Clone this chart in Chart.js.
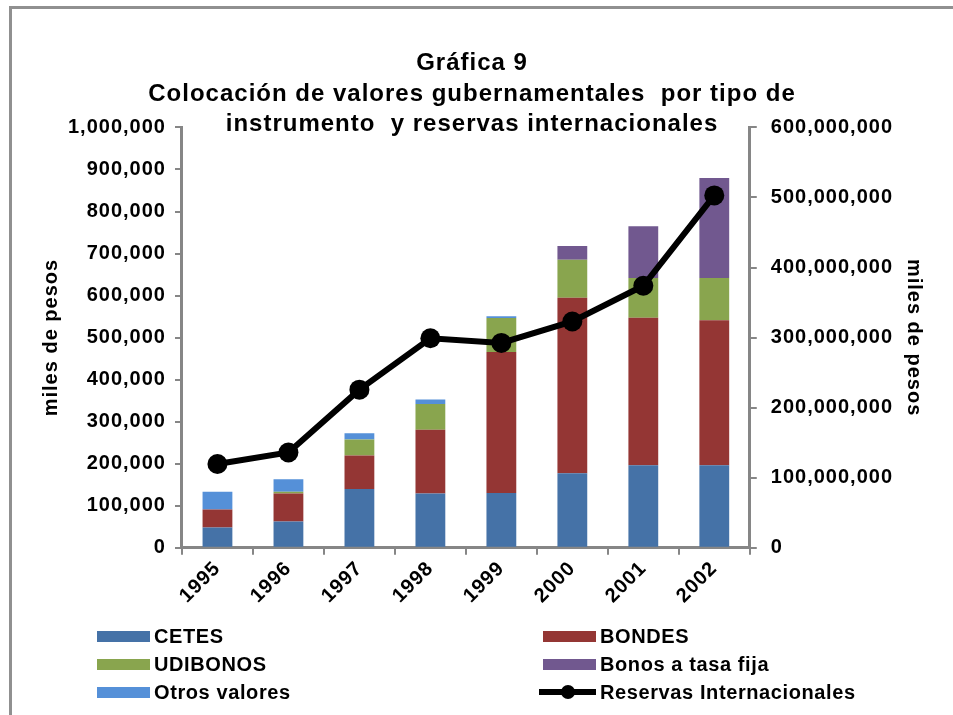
<!DOCTYPE html>
<html>
<head>
<meta charset="utf-8">
<script src="https://cdn.jsdelivr.net/npm/chart.js@4"></script>
<style>
  body { margin: 0; background: #fff; }
  #wrap { position: relative; width: 953px; height: 715px; overflow: hidden; }
  #frame { position: absolute; left: 9px; top: 6px; width: 1000px; height: 800px;
           border-left: 3px solid #909090; border-top: 3px solid #909090; }
  canvas { position: absolute; left: 0; top: 0; }
  #legend { position: absolute; left: 97px; top: 622px; width: 800px;
            display: grid; grid-template-columns: 446px 354px; grid-auto-rows: 28px;
            font: bold 20px "Liberation Sans", Arial, sans-serif; letter-spacing: 0.6px; color: #000; }
  #legend .item { display: flex; align-items: center; white-space: nowrap; }
  #legend .sw { width: 53px; height: 11px; margin-right: 4px; position: relative; }
  #legend .ln { width: 57px; height: 6px; background: #000; margin-left: -4px; margin-right: 4px; position: relative; }
  #legend .ln::after { content: ""; position: absolute; left: 22px; top: -4px; width: 14px; height: 14px;
                       border-radius: 50%; background: #000; }
</style>
</head>
<body>
<div id="wrap">
  <div id="frame"></div>
  <canvas id="chart" width="953" height="715"></canvas>
  <div id="legend"></div>
</div>
<script>
var years = ["1995", "1996", "1997", "1998", "1999", "2000", "2001", "2002"];
var cetes = [48000, 62500, 139500, 129000, 130000, 177500, 196500, 196500];
var bondes = [43000, 66500, 80000, 152000, 335500, 417000, 350500, 345000];
var udibonos = [0, 4500, 38000, 61000, 81000, 90500, 95000, 100500];
var bonosTasaFija = [0, 0, 0, 0, 0, 33000, 123000, 237500];
var otrosValores = [42500, 29500, 15000, 10500, 4500, 0, 0, 0];
var reservas = [119600000, 136000000, 225700000, 299000000, 292400000, 323000000, 374000000, 503000000];
var leftTicks = [0, 1000000, 100000];
var rightTicks = [0, 600000000, 100000000];

var fontFamily = '"Liberation Sans", Arial, sans-serif';
var axisGray = "#868686";

function fmt(v) {
    return Number(v).toLocaleString("en-US");
}

var spacing = {
    id: "spacing",
    beforeLayout: function (chart) { chart.ctx.letterSpacing = "1px"; },
    beforeDraw: function (chart) { chart.ctx.letterSpacing = "1px"; },
};

Chart.defaults.font.family = fontFamily;
Chart.defaults.font.weight = "bold";
Chart.defaults.font.size = 20;
Chart.defaults.color = "#000";

function bar(label, data, color) {
    return {
        type: "bar",
        label: label,
        data: data,
        backgroundColor: color,
        borderWidth: 0,
        yAxisID: "y",
        order: 1,
        barPercentage: 0.42,
        categoryPercentage: 1,
    };
}

var chart = new Chart(document.getElementById("chart"), {
    type: "bar",
    data: {
        labels: years,
        datasets: [
            bar("CETES", cetes, "#4572A7"),
            bar("BONDES", bondes, "#943634"),
            bar("UDIBONOS", udibonos, "#89A54E"),
            bar("Bonos a tasa fija", bonosTasaFija, "#71588F"),
            bar("Otros valores", otrosValores, "#5590D8"),
            {
                type: "line",
                label: "Reservas Internacionales",
                data: reservas,
                yAxisID: "y1",
                order: 0,
                borderColor: "#000",
                backgroundColor: "#000",
                borderWidth: 6,
                pointRadius: 10,
                pointBackgroundColor: "#000",
                pointBorderWidth: 0,
                tension: 0,
            },
        ],
    },
    plugins: [spacing],
    options: {
        responsive: false,
        animation: false,
        events: [],
        layout: { padding: { left: 13, right: 22, top: 0, bottom: 105 } },
        plugins: {
            legend: { display: false },
            tooltip: { enabled: false },
            title: {
                display: true,
                text: [
                    "Gráfica 9",
                    "Colocación de valores gubernamentales  por tipo de",
                    "instrumento  y reservas internacionales",
                ],
                font: { size: 24, weight: "bold", lineHeight: 1.27 },
                color: "#000",
                padding: { top: 48.5, bottom: -12.5 },
            },
        },
        scales: {
            x: {
                stacked: true,
                offset: true,
                grid: { display: true, offset: true, drawOnChartArea: false, color: axisGray, lineWidth: 2, tickLength: 7 },
                border: { color: axisGray, width: 3 },
                ticks: { minRotation: 45, maxRotation: 45, padding: 2, font: { size: 20 } },
            },
            y: {
                stacked: true,
                position: "left",
                min: leftTicks[0],
                max: leftTicks[1],
                grid: { drawOnChartArea: false, color: axisGray, lineWidth: 2, tickLength: 7 },
                border: { color: axisGray, width: 3 },
                ticks: { stepSize: leftTicks[2], padding: 9, callback: fmt },
                title: { display: true, text: "miles de pesos", font: { size: 20 }, padding: { top: 26, bottom: -4 } },
            },
            y1: {
                position: "right",
                min: rightTicks[0],
                max: rightTicks[1],
                grid: { drawOnChartArea: false, color: axisGray, lineWidth: 2, tickLength: 7 },
                border: { color: axisGray, width: 3 },
                ticks: { stepSize: rightTicks[2], padding: 14, callback: fmt },
                title: { display: true, text: "miles de pesos", font: { size: 20 }, padding: { top: 5, bottom: -5 } },
            },
        },
    },
});

// legend built from the chart's datasets, laid out in two columns
var legendEl = document.getElementById("legend");
chart.data.datasets.forEach(function (ds) {
    var item = document.createElement("div");
    item.className = "item";
    var mark = document.createElement("span");
    if (ds.type === "line") {
        mark.className = "ln";
    } else {
        mark.className = "sw";
        mark.style.background = ds.backgroundColor;
    }
    var txt = document.createElement("span");
    txt.textContent = ds.label;
    item.appendChild(mark);
    item.appendChild(txt);
    legendEl.appendChild(item);
});
</script>
</body>
</html>
